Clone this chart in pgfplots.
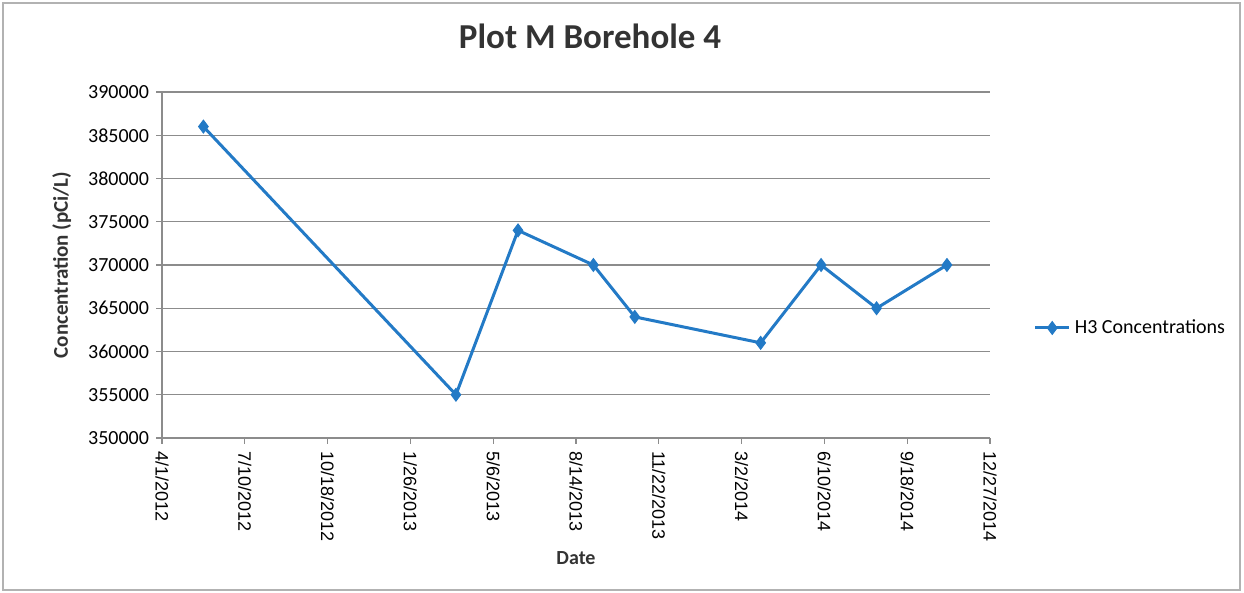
\documentclass[border=0pt]{standalone}
\usepackage{pgfplots}
\pgfplotsset{compat=1.18}
\usepackage{fontspec}
\setmainfont{Carlito}
\newfontfamily\arialfont{Liberation Sans}
\definecolor{serblue}{RGB}{35,122,198}
\definecolor{gridgray}{RGB}{140,140,140}
\begin{document}
\begin{tikzpicture}
\useasboundingbox (0pt,0pt) rectangle (622pt,296.5pt);
\draw[gray!60, line width=0.8pt] (1.5pt,1.5pt) rectangle (620pt,295pt);
\begin{axis}[
  at={(81pt,77.5pt)}, anchor=south west,
  scale only axis, width=414pt, height=173pt,
  xmin=0, xmax=1000, ymin=350000, ymax=390000,
  xtick={0,100,...,1000},
  xticklabels={4/1/2012,7/10/2012,10/18/2012,1/26/2013,5/6/2013,8/14/2013,11/22/2013,3/2/2014,6/10/2014,9/18/2014,12/27/2014},
  xticklabel style={rotate=-90, anchor=west, font=\arialfont\fontsize{9}{10}\selectfont},
  ytick={350000,355000,...,390000},
  yticklabel style={font=\fontsize{10}{12}\selectfont},
  /pgf/number format/.cd, fixed, 1000 sep={}, assume math mode=true,
  /pgfplots/.cd,
  scaled y ticks=false,
  axis x line*=bottom, axis y line*=left,
  axis line style={gridgray, line width=0.6pt},
  tick style={gridgray, line width=0.6pt},
  tick align=outside, major tick length=3pt,
  ymajorgrids, grid style={gridgray, line width=0.6pt},
  title={Plot M Borehole 4},
  title style={at={(axis description cs:0.517,1.127)}, anchor=center, font=\bfseries\fontsize{17.5}{20}\selectfont, text=black!80},
  ylabel={Concentration (pCi/L)},
  ylabel style={at={(axis description cs:-0.121,0.5)}, anchor=center, rotate=0, font=\bfseries\fontsize{10.5}{12}\selectfont, text=black!80},
  xlabel={Date},
  xlabel style={at={(axis description cs:0.5,-0.347)}, anchor=center, font=\bfseries\fontsize{10}{12}\selectfont, text=black!80},
  legend style={at={(axis description cs:1.045,0.318)}, anchor=west, draw=none, fill=none, font=\fontsize{10}{12}\selectfont, legend cell align=left},
  legend image post style={sharp plot},
  clip=false,
]
\addplot[serblue, line width=1.5pt, mark=diamond*, mark size=3.2pt, mark options={fill=serblue, draw=serblue, line width=0.5pt}]
coordinates {
(50,386000)
(355,355000)
(430,374000)
(521,370000)
(571,364000)
(723,361000)
(796,370000)
(863,365000)
(948,370000)
};
\addlegendentry{H3 Concentrations}
\end{axis}
\end{tikzpicture}
\end{document}
